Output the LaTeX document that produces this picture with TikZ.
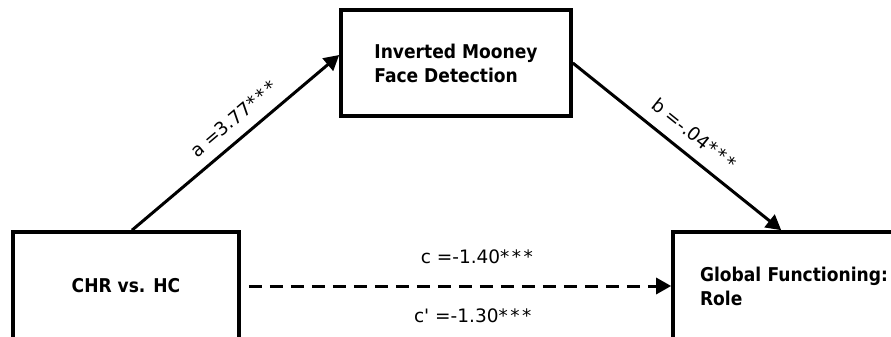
\documentclass[tikz,border=0pt]{standalone}
\usepackage{fontspec}
\setmainfont{DejaVu Sans}[Ligatures=TeXOff]
\newfontfamily\boxfont{DejaVu Sans Condensed}[Ligatures=TeXOff]
\usetikzlibrary{arrows.meta,positioning}
\newcommand{\sigstars}{*\kern2.5pt*\kern2.5pt*}

\begin{document}
\begin{tikzpicture}[
  x=1pt, y=-1pt,
  box/.style={draw, line width=3.6pt, align=left, inner sep=0pt, font=\boxfont\bfseries\fontsize{19}{24}\selectfont},
  lbl/.style={font=\fontsize{18.5}{20}\selectfont, inner sep=4pt},
  edge/.style={-{Triangle[length=15pt, width=16pt]}, line width=3pt},
  dashedge/.style={edge, dash pattern=on 13pt off 8pt}
]
\useasboundingbox (0,0) rectangle (891,337);
\clip (0,0) rectangle (891,337);
\fill[white] (0,0) rectangle (891,337);
\node[box, minimum width=226pt, minimum height=108pt] (chr) at (126,286) {CHR vs. HC};
\node[box, minimum width=230pt, minimum height=106pt] (imf) at (456,63) {Inverted Mooney\\Face Detection};
\node[box, minimum width=254pt, minimum height=108pt, text width=200pt] (role) at (800,286) {Global Functioning:\\Role};
\draw[edge] ([xshift=6pt]chr.north) -- node[lbl, pos=0.55, above=7pt, sloped] {a =3.77\sigstars} ([yshift=8pt]imf.west);
\draw[edge] (imf.east) -- node[lbl, pos=0.52, above=8pt, sloped] {b =-.04\sigstars} ([xshift=110pt]role.north west);
\draw[dashedge] ([xshift=8pt]chr.east) -- node[lbl, pos=0.54, yshift=29pt] {c =-1.40\sigstars}
  node[lbl, pos=0.53, yshift=-30pt] {c' =-1.30\sigstars} (role.west);
\end{tikzpicture}
\end{document}
